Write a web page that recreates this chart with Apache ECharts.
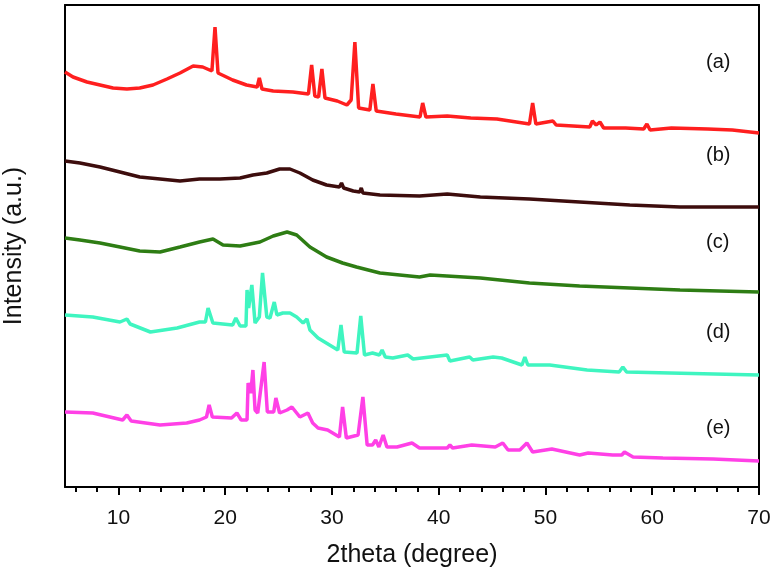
<!DOCTYPE html>
<html>
<head>
<meta charset="utf-8">
<script src="https://cdn.jsdelivr.net/npm/echarts@6/dist/echarts.min.js"></script>
<style>
html,body{margin:0;padding:0;background:#fff;}
#chart{width:774px;height:581px;}
</style>
</head>
<body>
<div id="chart"></div>
<script>
// 2theta (degree) vs intensity (a.u., arbitrary offset units)
const seriesNames = ['(a)', '(b)', '(c)', '(d)', '(e)'];
const majorTicks = [10, 20, 30, 40, 50, 60, 70];
const minorTicks = [6, 8, 12, 14, 16, 18, 22, 24, 26, 28, 32, 34, 36, 38, 42, 44, 46, 48, 52, 54, 56, 58, 62, 64, 66, 68];

const dataA = [[5,415],[5.75,410],[7.06,405],[8.28,402],[9.5,399],[10.8,398],[12,399],[13.24,402],[14.55,408],[15.77,414],[17,421],[17.9,420],[18.76,416],[19.05,460],[19.33,414],[20.7,407],[22,402],[23,400],[23.2,409],[23.45,398],[24.5,396],[26.35,395],[27.8,393],[28.1,422],[28.4,391],[28.75,390],[29.06,418],[29.35,389],[30.5,386],[31.4,382],[31.8,387],[32.15,445],[32.5,379],[33.55,377],[33.84,403],[34.15,376],[36,373],[38.25,370],[38.5,384],[38.8,370],[40.8,371],[43,369],[45.45,368],[48.5,363],[48.8,384],[49.1,363],[50.7,366],[51,362],[54.15,360],[54.4,366],[54.75,362],[55.1,365],[55.45,359],[57.5,359],[59.2,358],[59.5,363],[59.8,357],[61.8,359],[65.2,358],[67.5,357],[70,354]];
const dataB = [[5,326],[6.4,324],[8.28,320],[10.15,315],[12,310],[13.9,308],[15.77,306],[17.6,308],[19.5,308],[21.4,309],[22.6,312],[23.9,314],[25.1,318],[26.07,318],[27,314],[28.2,307],[29.5,302],[30.7,300],[30.9,304],[31.1,299],[32,296],[32.6,295],[32.75,299],[32.9,294],[34.5,292],[38.2,291],[40.8,293],[43.9,290],[48.5,288],[53.2,285],[57.9,282],[62.6,280],[70,280]];
const dataC = [[5,249],[6.4,247],[8.28,244],[10.15,240],[12,236],[13.9,235],[15.77,240],[17.6,245],[18.86,248],[19.8,242],[21.4,241],[23.26,245],[24.5,251],[25.8,255],[26.7,252],[27.94,240],[29.5,230],[31,224],[32.3,220],[34.5,214],[38.2,210],[39.2,212],[43.9,209],[48.5,204],[53.2,201],[57.9,199],[62.6,197],[70,195]];
const dataD = [[5,172],[7.6,170],[10.15,165],[10.8,168],[11.1,163],[13,155],[15.5,159],[17.6,165],[18.15,165],[18.4,179],[18.85,164],[20.7,162],[21,169],[21.4,161],[21.95,161],[22.05,197],[22.2,179],[22.5,202],[22.8,164],[23.2,170],[23.5,214],[23.9,170],[24.2,169],[24.6,185],[24.85,172],[25.4,174],[26.07,174],[26.7,170],[27.3,164],[27.66,168],[27.94,157],[28.7,149],[30.55,137],[30.85,162],[31.15,135],[32.35,134],[32.7,171],[33.05,132],[33.8,134],[34.45,132],[34.7,137],[35,130],[35.7,129],[37.1,132],[37.6,128],[40.8,132],[41.05,126],[42.9,130],[43.2,127],[45.1,130],[45.9,129],[47.8,122],[48.07,130],[48.35,122],[50.4,122],[53.9,117],[56.9,115],[57.25,120],[57.6,115],[61.65,114],[70,112]];
const dataE = [[5,75],[7.6,74],[10.4,67],[10.8,72],[11.2,66],[13.9,62],[16.4,64],[17.6,67],[18.25,70],[18.5,82],[18.8,70],[20.6,69],[21.1,74],[21.5,67],[22.05,67],[22.15,104],[22.4,94],[22.6,117],[22.8,77],[23.05,74],[23.65,125],[23.95,75],[24.55,75],[24.75,89],[25.1,74],[25.8,77],[26.25,80],[27,70],[27.75,74],[28.2,64],[28.7,59],[29.6,57],[30.7,50],[31,80],[31.35,49],[32.45,52],[32.9,90],[33.3,42],[33.8,42],[34.1,47],[34.4,40],[34.8,52],[35.15,40],[36.1,40],[37.5,44],[38.2,39],[40.8,39],[41.05,42],[41.3,39],[43.1,42],[45.3,40],[46,44],[46.5,37],[47.6,37],[48.26,44],[48.8,35],[50.6,38],[53.2,32],[54,34],[56.3,32],[57.15,32],[57.4,35],[58.2,30],[61,29],[65.7,28],[70,26]];

const allData = [dataA, dataB, dataC, dataD, dataE];
const colors = ['#ff1f1f', '#3d0d0d', '#2e7d14', '#3ff5c0', '#ff40e6'];
const labelTops = [52, 145, 232, 322, 418];

const FONT = 'Liberation Sans, Arial, sans-serif';
const chart = echarts.init(document.getElementById('chart'), null, {renderer: 'canvas'});

const lineStyleAxis = {show: true, lineStyle: {color: '#000', width: 2}};

chart.setOption({
  animation: false,
  backgroundColor: '#fff',
  grid: {left: 65, right: 15, top: 5, bottom: 94, containLabel: false, outerBoundsMode: 'none'},
  xAxis: [
    {
      type: 'value', min: 5, max: 70, position: 'bottom',
      axisLine: lineStyleAxis,
      axisTick: {show: true, customValues: majorTicks, length: 8, inside: false, lineStyle: {color: '#000', width: 2}},
      axisLabel: {show: true, customValues: majorTicks, margin: 21, fontSize: 21, fontFamily: FONT, color: '#111'},
      splitLine: {show: false},
      name: '2theta (degree)', nameLocation: 'middle', nameGap: 56,
      nameTextStyle: {fontSize: 25, fontFamily: FONT, color: '#111'}
    },
    {
      type: 'value', min: 5, max: 70, position: 'bottom',
      axisLine: {show: false},
      axisTick: {show: true, customValues: minorTicks, length: 5, inside: false, lineStyle: {color: '#000', width: 2}},
      axisLabel: {show: false},
      splitLine: {show: false}
    },
    {
      type: 'value', min: 5, max: 70, position: 'top',
      axisLine: lineStyleAxis, axisTick: {show: false}, axisLabel: {show: false}, splitLine: {show: false}
    }
  ],
  yAxis: [
    {
      type: 'value', min: 0, max: 482, position: 'left',
      axisLine: lineStyleAxis, axisTick: {show: false}, axisLabel: {show: false}, splitLine: {show: false},
      name: 'Intensity (a.u.)', nameLocation: 'middle', nameGap: 38,
      nameTextStyle: {fontSize: 25, fontFamily: FONT, color: '#111'}
    },
    {
      type: 'value', min: 0, max: 482, position: 'right',
      axisLine: lineStyleAxis, axisTick: {show: false}, axisLabel: {show: false}, splitLine: {show: false}
    }
  ],
  series: allData.map((d, i) => ({
    name: seriesNames[i],
    type: 'line',
    xAxisIndex: 0, yAxisIndex: 0,
    data: d,
    showSymbol: false,
    symbol: 'none',
    lineStyle: {color: colors[i], width: 3.5},
    z: 5 - i
  })),
  graphic: seriesNames.map((n, i) => ({
    type: 'text', left: 706, top: labelTops[i],
    style: {text: n, font: '20px ' + FONT, fill: '#111'}
  }))
});
</script>
</body>
</html>
